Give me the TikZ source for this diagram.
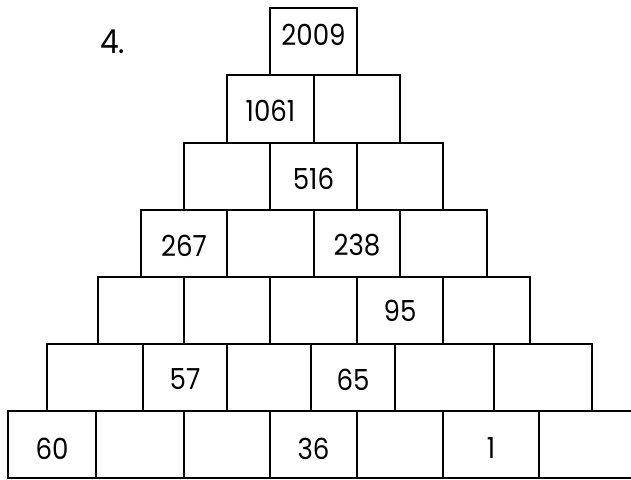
\documentclass[tikz,border=0pt]{standalone}
\usepackage{fontspec}
\setmainfont{Poppins}[FakeStretch=0.9]
\begin{document}
\begin{tikzpicture}[x=1pt,y=-1pt,
  cell/.style={draw=black,line width=2pt,inner sep=0pt,rectangle},
  num/.style={inner sep=0pt,font=\fontsize{29}{33}\selectfont}]
\clip (0,0) rectangle (631,479);
\fill[white] (0,0) rectangle (631,479);
% row y limits
\def\ya{8}\def\yb{75}\def\yc{143}\def\yd{210}\def\ye{277}\def\yf{344}\def\yg{411}\def\yh{478}
\newcommand\cellbox[5]{\node[cell,minimum width={#3-#2},minimum height={#5-#4}] (#1) at ({(#2+#3)/2},{(#4+#5)/2}) {};}
% row 1
\cellbox{a1}{270}{357}{\ya}{\yb}
% row 2
\cellbox{b1}{227}{314}{\yb}{\yc}
\cellbox{b2}{314}{400}{\yb}{\yc}
% row 3
\cellbox{c1}{184}{270}{\yc}{\yd}
\cellbox{c2}{270}{357}{\yc}{\yd}
\cellbox{c3}{357}{443}{\yc}{\yd}
% row 4
\cellbox{d1}{141}{227}{\yd}{\ye}
\cellbox{d2}{227}{314}{\yd}{\ye}
\cellbox{d3}{314}{400}{\yd}{\ye}
\cellbox{d4}{400}{487}{\yd}{\ye}
% row 5
\cellbox{e1}{98}{184}{\ye}{\yf}
\cellbox{e2}{184}{270}{\ye}{\yf}
\cellbox{e3}{270}{357}{\ye}{\yf}
\cellbox{e4}{357}{443}{\ye}{\yf}
\cellbox{e5}{443}{530}{\ye}{\yf}
% row 6
\cellbox{f1}{47}{143}{\yf}{\yg}
\cellbox{f2}{143}{227}{\yf}{\yg}
\cellbox{f3}{227}{311}{\yf}{\yg}
\cellbox{f4}{311}{395}{\yf}{\yg}
\cellbox{f5}{395}{494}{\yf}{\yg}
\cellbox{f6}{494}{592}{\yf}{\yg}
% row 7
\cellbox{g1}{8}{96}{\yg}{\yh}
\cellbox{g2}{96}{184}{\yg}{\yh}
\cellbox{g3}{184}{270}{\yg}{\yh}
\cellbox{g4}{270}{357}{\yg}{\yh}
\cellbox{g5}{357}{443}{\yg}{\yh}
\cellbox{g6}{443}{539}{\yg}{\yh}
\cellbox{g7}{539}{660}{\yg}{\yh}
% numbers
\node[num] (ta1) at ([yshift=7]a1.center) {2009};
\node[num] (tb1) at ([yshift=-2]b1.center) {1061};
\node[num] (tc2) at ([yshift=-2]c2.center) {516};
\node[num] (td1) at ([yshift=-2]d1.center) {267};
\node[num] (td3) at ([yshift=-2]d3.center) {238};
\node[num] (te4) at (e4.center) {95};
\node[num] (tf2) at ([yshift=-2]f2.center) {57};
\node[num] (tf4) at ([yshift=-2]f4.center) {65};
\node[num] (tg1) at ([yshift=-4]g1.center) {60};
\node[num] (tg4) at ([yshift=-4]g4.center) {36};
\node[num] (tg6) at ([yshift=-4]g6.center) {1};
\node[num,anchor=base,font=\fontsize{33}{36}\selectfont] (lbl) at (112.5,53.3) {4.};
\end{tikzpicture}
\end{document}
